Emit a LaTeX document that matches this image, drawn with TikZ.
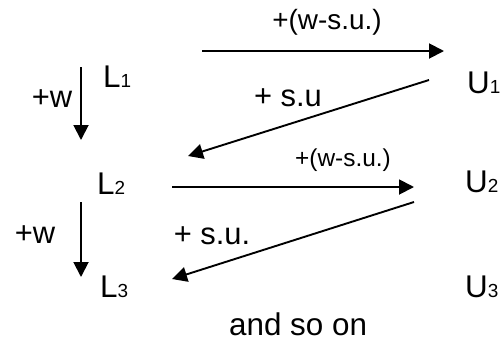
\documentclass[tikz,border=0pt]{standalone}
\usepackage{fontspec}
\setmainfont{Liberation Sans}
\usepackage{tikz}
\usetikzlibrary{arrows.meta}
\newcommand{\idx}[1]{{\fontsize{19}{19}\selectfont #1}}

\begin{document}
\begin{tikzpicture}[
  x=1bp, y=-1bp,
  level/.style={inner sep=0pt, anchor=base west, font=\fontsize{31.5}{35}\selectfont},
  lbl/.style={inner sep=0pt, font=\fontsize{31}{35}\selectfont},
  small/.style={inner sep=0pt, font=\fontsize{28}{32}\selectfont},
  smaller/.style={inner sep=0pt, font=\fontsize{24.5}{28}\selectfont},
  arrow/.style={-{Triangle[length=15bp,width=15bp]}, line width=1.9bp},
]
  \useasboundingbox (0,0) rectangle (504,343);

  % Levels on both sides.
  \node[level] (l1) at (103,87) {L\idx{1}};
  \node[level] (l2) at (97,194) {L\idx{2}};
  \node[level] (l3) at (100,297) {L\idx{3}};
  \node[level] (u1) at (467,93) {U\idx{1}};
  \node[level] (u2) at (465,192) {U\idx{2}};
  \node[level] (u3) at (465,297) {U\idx{3}};

  % Arrow ends.
  \coordinate (a1-s) at (202,51);  \coordinate (a1-e) at (444,51);
  \coordinate (d1-s) at (429,80);  \coordinate (d1-e) at (188,156);
  \coordinate (v1-s) at (81,67);   \coordinate (v1-e) at (81,140);
  \coordinate (a2-s) at (172,187); \coordinate (a2-e) at (414,187);
  \coordinate (d2-s) at (414,202); \coordinate (d2-e) at (172,279);
  \coordinate (v2-s) at (81,202);  \coordinate (v2-e) at (81,277);

  \draw[arrow] (a1-s) -- (a1-e);
  \draw[arrow] (d1-s) -- (d1-e);
  \draw[arrow] (v1-s) -- (v1-e);
  \draw[arrow] (a2-s) -- (a2-e);
  \draw[arrow] (d2-s) -- (d2-e);
  \draw[arrow] (v2-s) -- (v2-e);

  % Labels.
  \node[small] (a1-lbl) at (327,22) {+(w-s.u.)};
  \node[lbl] (d1-lbl) at (288,98) {+ s.u};
  \node[lbl] (v1-lbl) at (52,99) {+w};
  \node[smaller] (a2-lbl) at (343,160) {+(w-s.u.)};
  \node[lbl] (d2-lbl) at (212,236) {+ s.u.};
  \node[lbl] (v2-lbl) at (35,235) {+w};

  \node[level] (more) at (229,335) {and so on};
\end{tikzpicture}
\end{document}
